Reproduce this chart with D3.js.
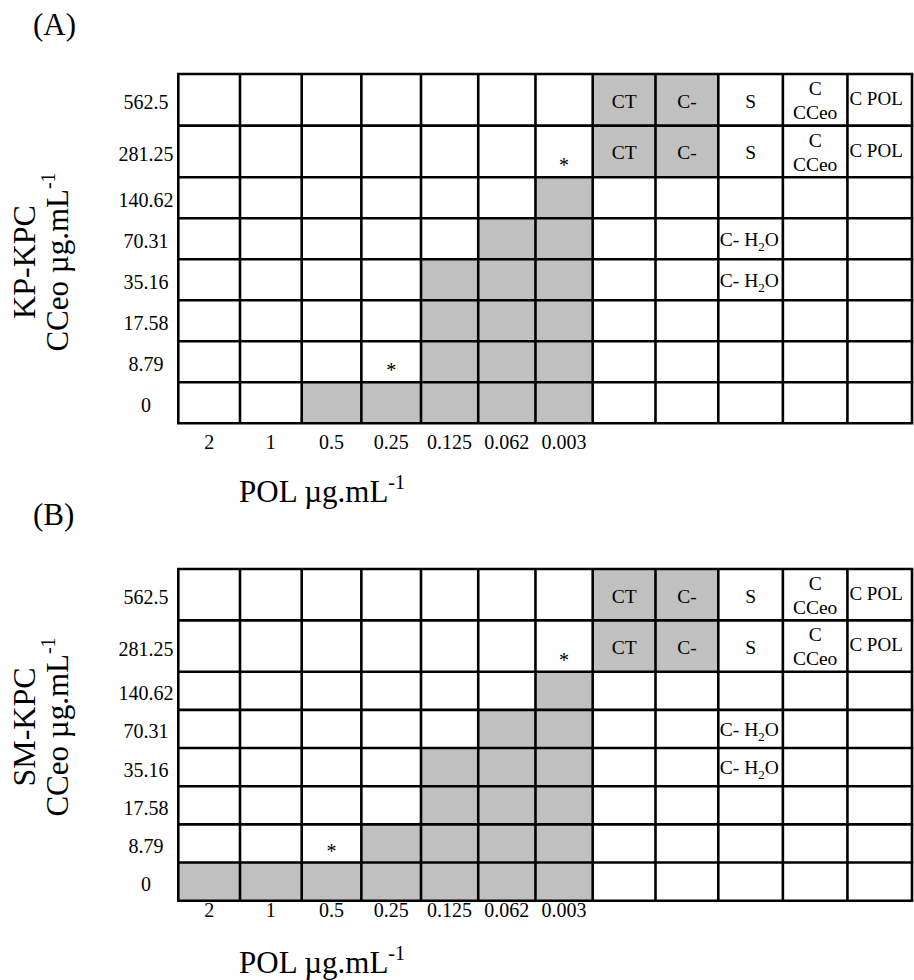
<!DOCTYPE html>
<html>
<head>
<meta charset="utf-8">
<script src="https://cdn.jsdelivr.net/npm/d3@7"></script>
<style>
  body { margin: 0; background: #fff; }
  svg { display: block; font-family: 'Liberation Serif', 'Times New Roman', serif; }
</style>
</head>
<body>
<div id="chart"></div>
<script>
// CCeo concentrations (rows, top to bottom) and POL concentrations (columns)
const ccConc = ['562.5', '281.25', '140.62', '70.31', '35.16', '17.58', '8.79', '0'];
const polConc = ['2', '1', '0.5', '0.25', '0.125', '0.062', '0.003'];

// 1 = bacterial growth (grey cell), per CCeo row / POL column
const growthKP = [
  [0, 0, 0, 0, 0, 0, 0],
  [0, 0, 0, 0, 0, 0, 0],
  [0, 0, 0, 0, 0, 0, 1],
  [0, 0, 0, 0, 0, 1, 1],
  [0, 0, 0, 0, 1, 1, 1],
  [0, 0, 0, 0, 1, 1, 1],
  [0, 0, 0, 0, 1, 1, 1],
  [0, 0, 1, 1, 1, 1, 1]
];
const growthSM = [
  [0, 0, 0, 0, 0, 0, 0],
  [0, 0, 0, 0, 0, 0, 0],
  [0, 0, 0, 0, 0, 0, 1],
  [0, 0, 0, 0, 0, 1, 1],
  [0, 0, 0, 0, 1, 1, 1],
  [0, 0, 0, 0, 1, 1, 1],
  [0, 0, 0, 1, 1, 1, 1],
  [1, 1, 1, 1, 1, 1, 1]
];

// MIC marks [CCeo, POL]
const micKP = [['281.25', '0.003'], ['8.79', '0.25']];
const micSM = [['281.25', '0.003'], ['8.79', '0.5']];

// control wells
const controlNames = ['CT', 'C-', 'S', 'C|CCeo', 'C POL'];
const controlGrowth = [1, 1, 0, 0, 0];
const controlRows = ['562.5', '281.25'];
const waterRows = ['70.31', '35.16'];

const panels = [
  { tag: '(A)', strain: 'KP-KPC', growth: growthKP, mic: micKP,
    top: 74, split: 177.3, bottom: 423.3, tagY: 35, tickY: 449, titleY: 502, yTitleY: 262 },
  { tag: '(B)', strain: 'SM-KPC', growth: growthSM, mic: micSM,
    top: 569, split: 671.7, bottom: 900.7, tagY: 525, tickY: 917, titleY: 973, yTitleY: 727 }
];

const GREY = '#c0c0c0';
const width = 914;
const height = 980;
const nCols = polConc.length + controlNames.length;

const svg = d3.select('#chart')
  .append('svg')
  .attr('width', width)
  .attr('height', height);

// column edges (slightly uneven widths, as in the original table)
const xEdge = d3.scaleLinear()
  .domain([0, 2, 4, 7, 9, 12])
  .range([178.3, 301.7, 421, 592.7, 718.3, 912]);

panels.forEach(p => {
  const yEdge = d3.scaleLinear()
    .domain([0, 2, ccConc.length])
    .range([p.top, p.split, p.bottom]);
  const xMid = i => (xEdge(i) + xEdge(i + 1)) / 2;
  const yMid = i => (yEdge(i) + yEdge(i + 1)) / 2;
  const g = svg.append('g');

  // cells
  const cells = [];
  ccConc.forEach((cc, r) => {
    d3.range(nCols).forEach(c => {
      let grey;
      if (c < polConc.length) grey = p.growth[r][c];
      else grey = controlRows.includes(cc) ? controlGrowth[c - polConc.length] : 0;
      cells.push({ r, c, grey });
    });
  });
  g.selectAll('.cell')
    .data(cells)
    .enter()
    .append('rect')
    .attr('class', 'cell')
    .attr('x', d => xEdge(d.c))
    .attr('y', d => yEdge(d.r))
    .attr('width', d => xEdge(d.c + 1) - xEdge(d.c))
    .attr('height', d => yEdge(d.r + 1) - yEdge(d.r))
    .style('fill', d => (d.grey ? GREY : '#fff'));

  // grid lines
  g.selectAll('.hline')
    .data(d3.range(ccConc.length + 1))
    .enter()
    .append('line')
    .attr('x1', xEdge(0) - 1.3)
    .attr('x2', xEdge(nCols) + 1.3)
    .attr('y1', d => yEdge(d))
    .attr('y2', d => yEdge(d))
    .style('stroke', '#000')
    .style('stroke-width', 2.6);
  g.selectAll('.vline')
    .data(d3.range(nCols + 1))
    .enter()
    .append('line')
    .attr('x1', d => xEdge(d))
    .attr('x2', d => xEdge(d))
    .attr('y1', yEdge(0))
    .attr('y2', yEdge(ccConc.length))
    .style('stroke', '#000')
    .style('stroke-width', 2.6);

  // control labels
  ccConc.forEach((cc, r) => {
    if (!controlRows.includes(cc)) return;
    controlNames.forEach((name, k) => {
      const c = polConc.length + k;
      if (name.includes('|')) {
        name.split('|').forEach((line, j) => {
          g.append('text')
            .attr('x', xMid(c))
            .attr('y', yEdge(r) + 21 + j * 24)
            .attr('text-anchor', 'middle')
            .style('font-size', '19.5px')
            .text(line);
        });
      } else if (name === 'C POL') {
        g.append('text')
          .attr('x', xEdge(c) + 2)
          .attr('y', yEdge(r) + 31)
          .style('font-size', '19px')
          .text(name);
      } else {
        g.append('text')
          .attr('x', xMid(c))
          .attr('y', yMid(r) + 8)
          .attr('text-anchor', 'middle')
          .style('font-size', '19.5px')
          .text(name);
      }
    });
  });
  waterRows.forEach(cc => {
    const r = ccConc.indexOf(cc);
    const c = polConc.length + controlNames.indexOf('S');
    const t = g.append('text')
      .attr('x', xEdge(c) + 1.5)
      .attr('y', yMid(r) + 7)
      .style('font-size', '19.5px');
    t.append('tspan').text('C- H');
    t.append('tspan').attr('dy', 5).style('font-size', '13px').text('2');
    t.append('tspan').attr('dy', -5).text('O');
  });

  // MIC asterisks
  p.mic.forEach(([cc, pol]) => {
    const r = ccConc.indexOf(cc);
    const c = polConc.indexOf(pol);
    g.append('text')
      .attr('x', xMid(c))
      .attr('y', yEdge(r + 1) - 5)
      .attr('text-anchor', 'middle')
      .style('font-size', '20px')
      .text('*');
  });

  // row tick labels
  g.selectAll('.ytick')
    .data(ccConc)
    .enter()
    .append('text')
    .attr('x', 146)
    .attr('y', (d, i) => yMid(i) + 9.5)
    .attr('text-anchor', 'middle')
    .style('font-size', '20px')
    .text(d => d);

  // column tick labels
  g.selectAll('.xtick')
    .data(polConc)
    .enter()
    .append('text')
    .attr('x', (d, i) => xMid(i))
    .attr('y', p.tickY)
    .attr('text-anchor', 'middle')
    .style('font-size', '20px')
    .text(d => d);

  // x title
  const xt = g.append('text')
    .attr('x', 239)
    .attr('y', p.titleY)
    .style('font-size', '31px');
  xt.append('tspan').text('POL µg.mL');
  xt.append('tspan').attr('dy', -13).style('font-size', '20px').text('-1');

  // y title (two lines)
  g.append('text')
    .attr('transform', `translate(35, ${p.yTitleY}) rotate(-90)`)
    .attr('text-anchor', 'middle')
    .style('font-size', '32px')
    .text(p.strain);
  const yt = g.append('text')
    .attr('transform', `translate(68, ${p.yTitleY}) rotate(-90)`)
    .attr('text-anchor', 'middle')
    .style('font-size', '31px');
  yt.append('tspan').text('CCeo µg.mL');
  yt.append('tspan').attr('dy', -13).style('font-size', '20px').text('-1');

  // panel tag
  g.append('text')
    .attr('x', 33)
    .attr('y', p.tagY)
    .style('font-size', '31px')
    .text(p.tag);
});
</script>
</body>
</html>
